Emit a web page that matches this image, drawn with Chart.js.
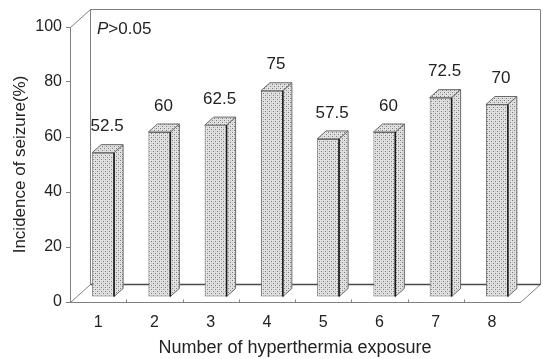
<!DOCTYPE html>
<html>
<head>
<meta charset="utf-8">
<script src="https://cdn.jsdelivr.net/npm/chart.js@4.4.0/dist/chart.umd.min.js"></script>
<style>
  html, body { margin: 0; padding: 0; background: #fff; }
</style>
</head>
<body>
<canvas id="seizureChart" width="543" height="359"></canvas>
<script>
const exposures = ['1', '2', '3', '4', '5', '6', '7', '8'];
const incidence = [52.5, 60, 62.5, 75, 57.5, 60, 72.5, 70];
const yTickValues = [0, 20, 40, 60, 80, 100];
const pText = ['P', '>0.05'];

const FONT = '"Liberation Sans", Arial, sans-serif';
const WALL = { dx: 20, dy: -18 };
const BAR = { ox: 5, oy: -5, dx: 9, dy: -8 };

// stipple fill like the old grayscale figure
function dotPattern(ctx) {
  const c = document.createElement('canvas');
  c.width = 4; c.height = 4;
  const p = c.getContext('2d');
  p.fillStyle = '#e2e2e2';
  p.fillRect(0, 0, 4, 4);
  p.fillStyle = '#7a7a7a';
  p.fillRect(0, 0, 1, 1);
  p.fillRect(2, 2, 1, 1);
  p.fillStyle = '#c4c4c4';
  p.fillRect(2, 0, 1, 1);
  p.fillRect(0, 2, 1, 1);
  return ctx.createPattern(c, 'repeat');
}

const box3d = {
  id: 'box3d',
  beforeDatasetsDraw(chart) {
    const { ctx, chartArea: a } = chart;
    const L = a.left + 0.5, R = a.right + 0.5, T = a.top + 0.5, B = a.bottom + 0.5;
    ctx.save();
    ctx.strokeStyle = '#808080';
    ctx.lineWidth = 1;
    ctx.beginPath();
    // back wall
    ctx.moveTo(L + WALL.dx, B + WALL.dy);
    ctx.lineTo(L + WALL.dx, T + WALL.dy);
    ctx.lineTo(R + WALL.dx, T + WALL.dy);
    ctx.lineTo(R + WALL.dx, B + WALL.dy);
    // depth edges
    ctx.moveTo(L, T); ctx.lineTo(L + WALL.dx, T + WALL.dy);
    ctx.moveTo(L, B); ctx.lineTo(L + WALL.dx, B + WALL.dy);
    ctx.moveTo(R, B); ctx.lineTo(R + WALL.dx, B + WALL.dy);
    ctx.stroke();
    // back floor edge
    ctx.strokeStyle = '#4a4a4a';
    ctx.lineWidth = 1.3;
    ctx.beginPath();
    ctx.moveTo(L + WALL.dx, B + WALL.dy);
    ctx.lineTo(R + WALL.dx, B + WALL.dy);
    ctx.stroke();
    // category tick marks on the front floor edge
    const xs = chart.scales.x;
    const half = (xs.getPixelForValue(1) - xs.getPixelForValue(0)) / 2;
    ctx.strokeStyle = '#808080';
    ctx.lineWidth = 1;
    ctx.beginPath();
    for (let i = 1; i < exposures.length; i++) {
      const px = Math.round(xs.getPixelForValue(i) - half) + 0.5;
      ctx.moveTo(px, B); ctx.lineTo(px, B - 3);
    }
    ctx.stroke();
    ctx.restore();
    // bars sit a little behind the front plane
    ctx.save();
    ctx.translate(BAR.ox, BAR.oy);
  },
  afterDatasetsDraw(chart) {
    const { ctx } = chart;
    ctx.restore();
    const fill = dotPattern(ctx);
    const meta = chart.getDatasetMeta(0);
    ctx.save();
    meta.data.forEach((bar, i) => {
      const { x, y, base, width } = bar.getProps(['x', 'y', 'base', 'width'], true);
      const x1 = x - width / 2 + BAR.ox, x2 = x + width / 2 + BAR.ox;
      const yt = y + BAR.oy, yb = base + BAR.oy;
      ctx.fillStyle = fill;
      ctx.strokeStyle = '#6a6a6a';
      ctx.lineWidth = 1;
      // side
      ctx.beginPath();
      ctx.moveTo(x2, yt);
      ctx.lineTo(x2 + BAR.dx, yt + BAR.dy);
      ctx.lineTo(x2 + BAR.dx, yb + BAR.dy);
      ctx.lineTo(x2, yb);
      ctx.closePath();
      ctx.fill(); ctx.stroke();
      // top
      ctx.beginPath();
      ctx.moveTo(x1, yt);
      ctx.lineTo(x1 + BAR.dx, yt + BAR.dy);
      ctx.lineTo(x2 + BAR.dx, yt + BAR.dy);
      ctx.lineTo(x2, yt);
      ctx.closePath();
      ctx.fill(); ctx.stroke();
      // dark front/side edge
      ctx.strokeStyle = '#1a1a1a';
      ctx.lineWidth = 1.5;
      ctx.beginPath();
      ctx.moveTo(x2, yt); ctx.lineTo(x2, yb);
      ctx.stroke();
      // value label
      ctx.fillStyle = '#222';
      ctx.font = '17px ' + FONT;
      ctx.textAlign = 'center';
      ctx.textBaseline = 'middle';
      ctx.fillText(String(incidence[i]), x + BAR.ox + 4, yt - 26);
    });
    // significance note
    const a = chart.chartArea;
    ctx.textAlign = 'left';
    ctx.textBaseline = 'middle';
    ctx.font = 'italic 17px ' + FONT;
    ctx.fillText(pText[0], a.left + 27, a.top + 2);
    const w = ctx.measureText(pText[0]).width;
    ctx.font = '17px ' + FONT;
    ctx.fillText(pText[1], a.left + 27 + w, a.top + 2);
    ctx.restore();
  }
};

new Chart(document.getElementById('seizureChart'), {
  type: 'bar',
  data: {
    labels: exposures,
    datasets: [{
      data: incidence,
      backgroundColor: (c) => dotPattern(c.chart.ctx),
      borderColor: '#6a6a6a',
      borderWidth: 1,
      borderSkipped: false,
      barPercentage: 0.39,
      categoryPercentage: 1
    }]
  },
  options: {
    responsive: false,
    animation: false,
    layout: { padding: { top: 27, right: 23, left: 0, bottom: 0 } },
    plugins: { legend: { display: false }, tooltip: { enabled: false } },
    scales: {
      x: {
        grid: { display: false, drawTicks: false },
        border: { display: true, color: '#808080' },
        ticks: { color: '#222', font: { family: FONT, size: 16 }, padding: 11 },
        title: {
          display: true,
          text: 'Number of hyperthermia exposure',
          color: '#222',
          font: { family: FONT, size: 18 },
          padding: 0
        },
        afterFit: (s) => { s.height = 57; }
      },
      y: {
        min: 0,
        max: 100,
        afterBuildTicks: (s) => { s.ticks = yTickValues.map(v => ({ value: v })); },
        grid: { drawOnChartArea: false, tickLength: 4, color: '#808080' },
        border: { display: true, color: '#808080' },
        ticks: { color: '#222', font: { family: FONT, size: 16 }, padding: 4 },
        title: {
          display: true,
          text: 'Incidence of seizure(%)',
          color: '#222',
          font: { family: FONT, size: 17 },
          padding: { top: 10, bottom: 0 }
        },
        afterFit: (s) => { s.width = 70; }
      }
    }
  },
  plugins: [box3d]
});
</script>
</body>
</html>
